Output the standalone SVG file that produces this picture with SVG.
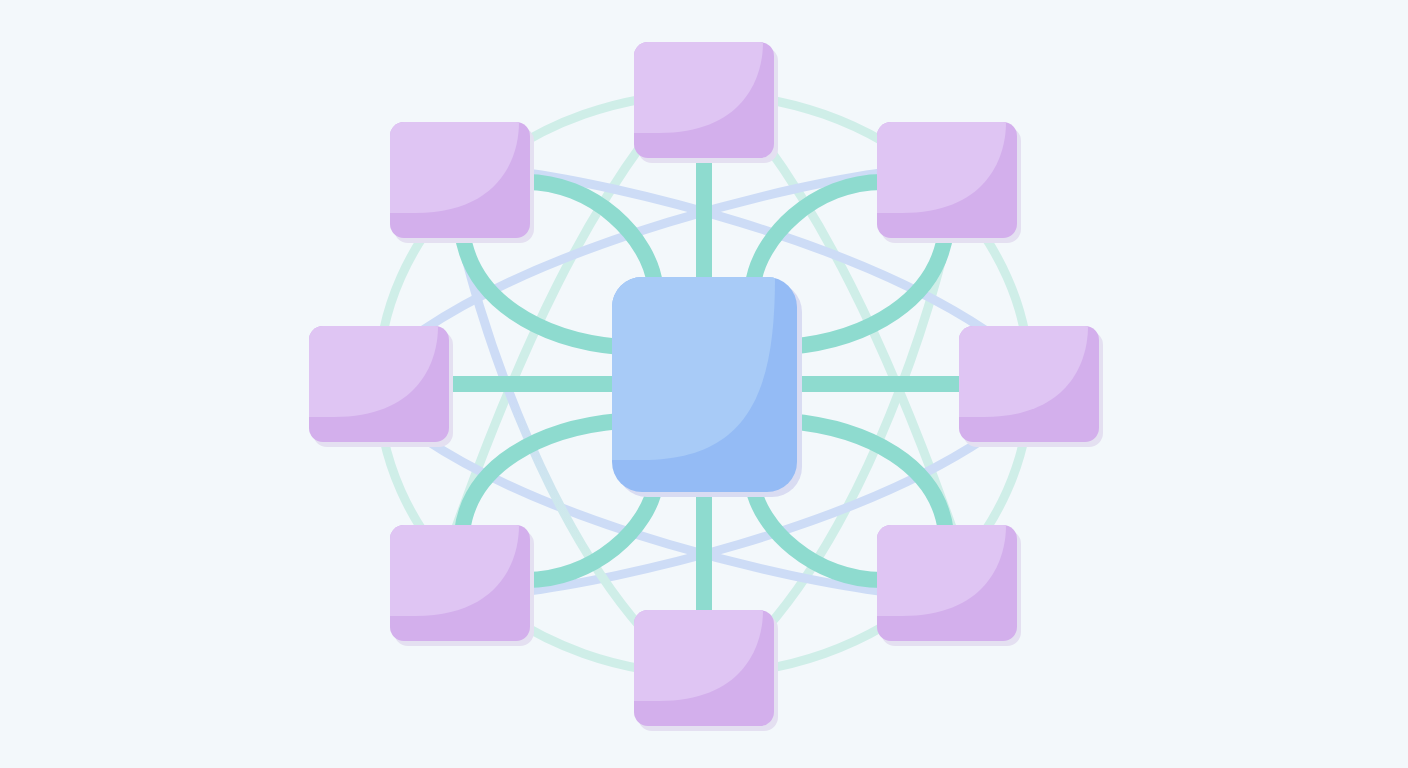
<svg xmlns="http://www.w3.org/2000/svg" xmlns:xlink="http://www.w3.org/1999/xlink" width="1408" height="768" viewBox="0 0 1408 768">
  <style>
    .faint { fill: none; stroke: #cfeee8; stroke-width: 9; stroke-linecap: round; }
    .blue { fill: none; stroke: #cddcf6; stroke-width: 9; stroke-linecap: round; }
    .thick { fill: none; stroke: #8edbcf; stroke-width: 16; stroke-linecap: butt; }
    .pshadow { fill: #e4e0f1; }
    .pbase { fill: #d3afec; }
    .plight { fill: #dfc5f3; }
    .cshadow { fill: #d9dcf2; }
    .cbase { fill: #94bbf5; }
    .clight { fill: #a8cbf7; }
  </style>
  <defs>
    <clipPath id="pclip"><rect x="0" y="0" width="140" height="116" rx="14"/></clipPath>
    <clipPath id="cclip"><rect x="0" y="0" width="185" height="215" rx="30"/></clipPath>
    <linearGradient id="blueTeal" gradientUnits="userSpaceOnUse" x1="0" y1="400" x2="0" y2="560">
      <stop offset="0" stop-color="#cddcf6"/>
      <stop offset="1" stop-color="#cfeee8"/>
    </linearGradient>
    <g id="pnode">
      <rect class="pshadow" x="4" y="5" width="140" height="116" rx="14"/>
      <rect class="pbase" x="0" y="0" width="140" height="116" rx="14"/>
      <path class="plight" d="M0,0 H129 C129,40 106,91 25,91 H0 Z" clip-path="url(#pclip)"/>
    </g>
  </defs>

  <rect x="0" y="0" width="1408" height="768" fill="#f3f8fb"/>

  <g id="connectors">
    <ellipse class="faint" cx="704" cy="384" rx="326" ry="290"/>
    <path class="faint" d="M645,140 C590,215 530,320 455,530"/>
    <path class="faint" d="M763,140 C818,215 878,320 953,530"/>
    <path class="faint" d="M950,224 C932,311 869,511 766,629"/>
    <path class="blue" d="M520,172 C620,185 850,240 985,330"/>
    <path class="blue" d="M888,172 C788,185 558,240 423,330"/>
    <path class="blue" d="M520,592 C620,580 850,528 985,438"/>
    <path class="blue" d="M888,592 C788,580 558,528 423,438"/>
    <path class="blue" style="stroke:url(#blueTeal)" d="M458,224 C476,311 539,511 642,629"/>
    <line class="thick" x1="704" y1="150" x2="704" y2="285"/>
    <line class="thick" x1="704" y1="485" x2="704" y2="618"/>
    <line class="thick" x1="440" y1="384" x2="620" y2="384"/>
    <line class="thick" x1="790" y1="384" x2="968" y2="384"/>
    <path class="thick" d="M522,182 C595,180 650,240 655,285"/>
    <path class="thick" d="M462,230 C470,300 540,340 620,347"/>
    <path class="thick" d="M886,182 C813,180 758,240 753,285"/>
    <path class="thick" d="M946,230 C938,300 868,340 788,347"/>
    <path class="thick" d="M522,580 C595,582 650,525 655,485"/>
    <path class="thick" d="M462,532 C470,465 540,428 620,421"/>
    <path class="thick" d="M886,580 C813,582 758,525 753,485"/>
    <path class="thick" d="M946,532 C938,465 868,428 788,421"/>
  </g>

  <g id="node-top" transform="translate(634,42)"><use xlink:href="#pnode" href="#pnode"/></g>
  <g id="node-top-left" transform="translate(390,122)"><use xlink:href="#pnode" href="#pnode"/></g>
  <g id="node-top-right" transform="translate(877,122)"><use xlink:href="#pnode" href="#pnode"/></g>
  <g id="node-left" transform="translate(309,326)"><use xlink:href="#pnode" href="#pnode"/></g>
  <g id="node-right" transform="translate(959,326)"><use xlink:href="#pnode" href="#pnode"/></g>
  <g id="node-bottom-left" transform="translate(390,525)"><use xlink:href="#pnode" href="#pnode"/></g>
  <g id="node-bottom-right" transform="translate(877,525)"><use xlink:href="#pnode" href="#pnode"/></g>
  <g id="node-bottom" transform="translate(634,610)"><use xlink:href="#pnode" href="#pnode"/></g>

  <g id="node-center" transform="translate(612,277)">
    <rect class="cshadow" x="5" y="5" width="185" height="215" rx="30"/>
    <rect class="cbase" x="0" y="0" width="185" height="215" rx="30"/>
    <path class="clight" d="M0,0 H163 C163,110 140,183 30,183 H0 Z" clip-path="url(#cclip)"/>
  </g>
</svg>
